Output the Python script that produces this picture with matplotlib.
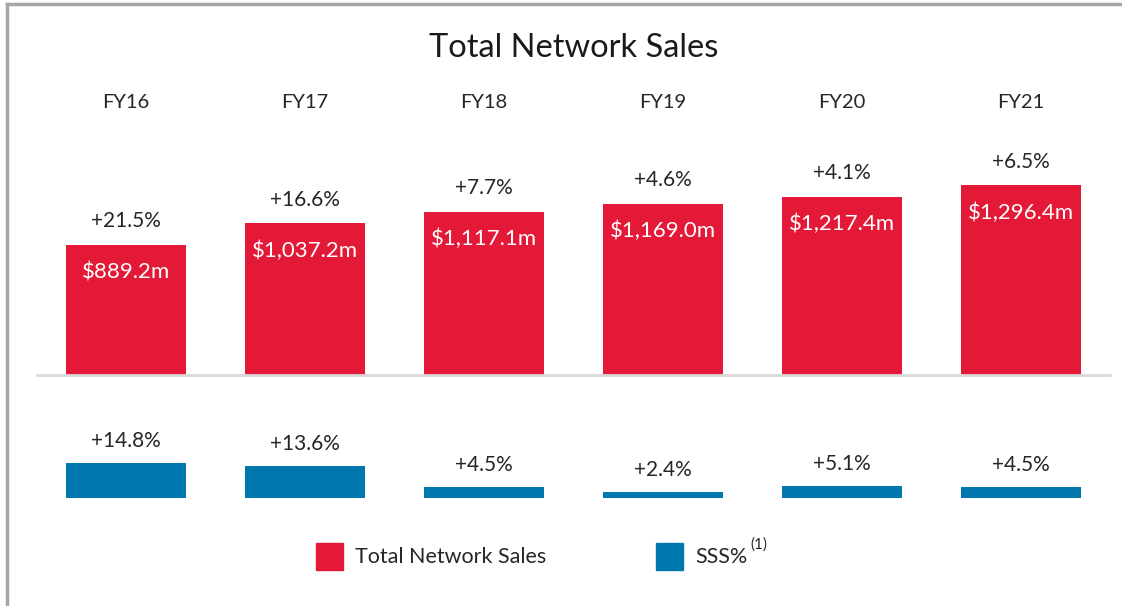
import matplotlib
matplotlib.use("Agg")
import matplotlib.pyplot as plt
from matplotlib.patches import Rectangle
from matplotlib.lines import Line2D

years = ["FY16", "FY17", "FY18", "FY19", "FY20", "FY21"]
sales = [889.2, 1037.2, 1117.1, 1169.0, 1217.4, 1296.4]
sales_growth = ["+21.5%", "+16.6%", "+7.7%", "+4.6%", "+4.1%", "+6.5%"]
sss = [14.8, 13.6, 4.5, 2.4, 5.1, 4.5]

RED = "#E31937"
BLUE = "#0077AE"
TXT = "#262626"
plt.rcParams['font.family'] = ['Lato', 'DejaVu Sans']

W, H = 1122, 606
fig = plt.figure(figsize=(W / 100, H / 100), dpi=100)

x = list(range(len(years)))
xlim = (-126 / 179, (W - 126) / 179)
bw = 120 / 179

# top panel: total network sales
ax = fig.add_axes([0, (H - 375) / H, 1, 235 / H])
ax.bar(x, sales, width=bw, color=RED)
ax.set_xlim(*xlim)
ax.set_ylim(0, 235 / 0.1462)
ax.axis("off")
for i, v in enumerate(sales):
    ax.annotate(sales_growth[i], (i, v), xytext=(0, 17), textcoords="offset points",
                ha="center", va="center", fontsize=15, color=TXT)
    ax.annotate(f"${v:,.1f}m", (i, v), xytext=(0, -19.5), textcoords="offset points",
                ha="center", va="center", fontsize=16, color="white")
    fig.text((126 + 179 * i) / W, 1 - 102 / H, years[i], ha="center",
             va="center", fontsize=14.5, color=TXT)
fig.add_artist(Line2D([37 / W, 1110 / W], [(H - 375) / H] * 2, color="#D9D9D9", lw=2))

# bottom panel: same store sales
ax2 = fig.add_axes([0, (H - 498) / H, 1, 70 / H])
ax2.bar(x, sss, width=bw, color=BLUE)
ax2.set_xlim(*xlim)
ax2.set_ylim(0, 70 / 2.36)
ax2.axis("off")
for i, v in enumerate(sss):
    ax2.annotate(f"+{v:.1f}%", (i, v), xytext=(0, 16), textcoords="offset points",
                 ha="center", va="center", fontsize=15, color=TXT)

fig.text(574 / W, 1 - 48 / H, "Total Network Sales", ha="center", va="center",
         fontsize=23.5, color="#1a1a1a")

# legend
fig.add_artist(Rectangle((316 / W, 1 - 570 / H), 27 / W, 27 / H, color=RED,
                         transform=fig.transFigure))
fig.text(355 / W, 1 - 557 / H, "Total Network Sales", ha="left", va="center",
         fontsize=15.5, color=TXT)
fig.add_artist(Rectangle((656 / W, 1 - 570 / H), 27 / W, 27 / H, color=BLUE,
                         transform=fig.transFigure))
fig.text(695 / W, 1 - 557 / H, "SSS%", ha="left", va="center", fontsize=15.5, color=TXT)
fig.text(750 / W, 1 - 545 / H, "(1)", ha="left", va="center", fontsize=11, color=TXT)

# frame
fig.add_artist(Line2D([7 / W, 1], [1 - 4 / H] * 2, color="#A6A6A6", lw=2.5))
fig.add_artist(Line2D([7 / W] * 2, [0, 1 - 4 / H], color="#A6A6A6", lw=2.5))

fig.savefig("out.png", dpi=100)
